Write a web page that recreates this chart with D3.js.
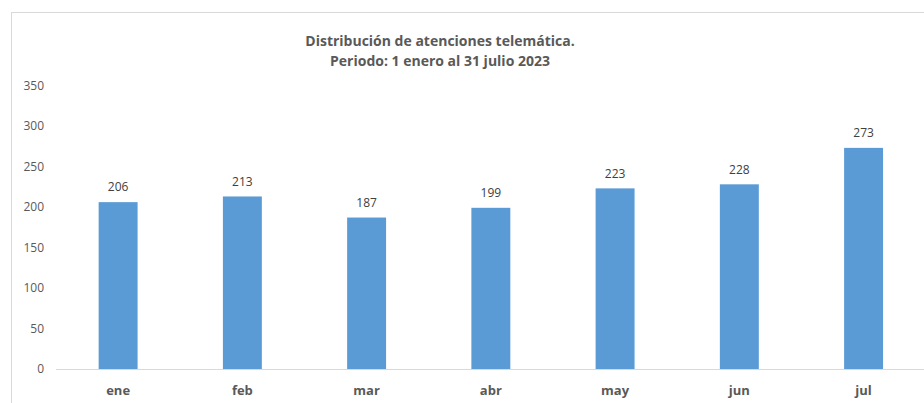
<!DOCTYPE html>
<html>
<head>
<meta charset="utf-8">
<script src="https://cdn.jsdelivr.net/npm/d3@7"></script>
<style>
  body { margin: 0; background: #fff; }
  svg { display: block; font-family: "Open Sans", "Liberation Sans", sans-serif; }
</style>
</head>
<body>
<div id="chart"></div>
<script>
const months = ["ene", "feb", "mar", "abr", "may", "jun", "jul"];
const values = [206, 213, 187, 199, 223, 228, 273];
const yTicks = [0, 50, 100, 150, 200, 250, 300, 350];
const titleLines = ["Distribución de atenciones telemática.", "Periodo: 1 enero al 31 julio 2023"];

const width = 924, height = 403;

const svg = d3.select("#chart").append("svg")
    .attr("width", width)
    .attr("height", height);

// chart area frame
svg.append("rect")
    .attr("x", 11.5)
    .attr("y", 12.5)
    .attr("width", 960)
    .attr("height", 420)
    .attr("fill", "none")
    .attr("stroke", "#d9d9d9");

const x = d3.scaleBand()
    .domain(months)
    .range([56, 925.7])
    .padding(0);

const y = d3.scaleLinear()
    .domain([0, 350])
    .range([369, 85.5]);

const barW = x.bandwidth() / 3.19;

// y labels
svg.append("g")
    .selectAll("text")
    .data(yTicks)
    .enter()
    .append("text")
    .attr("x", 44)
    .attr("y", d => y(d))
    .attr("dy", "0.35em")
    .attr("text-anchor", "end")
    .attr("fill", "#595959")
    .style("font-size", "12px")
    .text(d => d);

svg.selectAll("rect.bar")
    .data(values)
    .enter()
    .append("rect")
    .attr("class", "bar")
    .attr("x", (d, i) => x(months[i]) + x.bandwidth() / 2 - barW / 2)
    .attr("y", d => y(d))
    .attr("width", barW)
    .attr("height", d => y(0) - y(d))
    .attr("fill", "#5b9bd5");

// baseline
svg.append("line")
    .attr("x1", 56)
    .attr("x2", 925)
    .attr("y1", y(0) + 0.5)
    .attr("y2", y(0) + 0.5)
    .attr("stroke", "#d9d9d9");

// value labels
svg.selectAll("text.val")
    .data(values)
    .enter()
    .append("text")
    .attr("class", "val")
    .attr("x", (d, i) => x(months[i]) + x.bandwidth() / 2)
    .attr("y", d => y(d) - 15)
    .attr("dy", "0.35em")
    .attr("text-anchor", "middle")
    .attr("fill", "#404040")
    .style("font-size", "12px")
    .text(d => d);

// month labels
svg.selectAll("text.month")
    .data(months)
    .enter()
    .append("text")
    .attr("class", "month")
    .attr("x", d => x(d) + x.bandwidth() / 2)
    .attr("y", 390)
    .attr("dy", "0.35em")
    .attr("text-anchor", "middle")
    .attr("fill", "#595959")
    .style("font-size", "13px")
    .style("font-weight", "bold")
    .text(d => d);

svg.selectAll("text.title")
    .data(titleLines)
    .enter()
    .append("text")
    .attr("class", "title")
    .attr("x", 440)
    .attr("y", (d, i) => 41 + i * 20)
    .attr("dy", "0.35em")
    .attr("text-anchor", "middle")
    .attr("fill", "#595959")
    .style("font-size", "14px")
    .style("font-weight", "bold")
    .text(d => d);
</script>
</body>
</html>
